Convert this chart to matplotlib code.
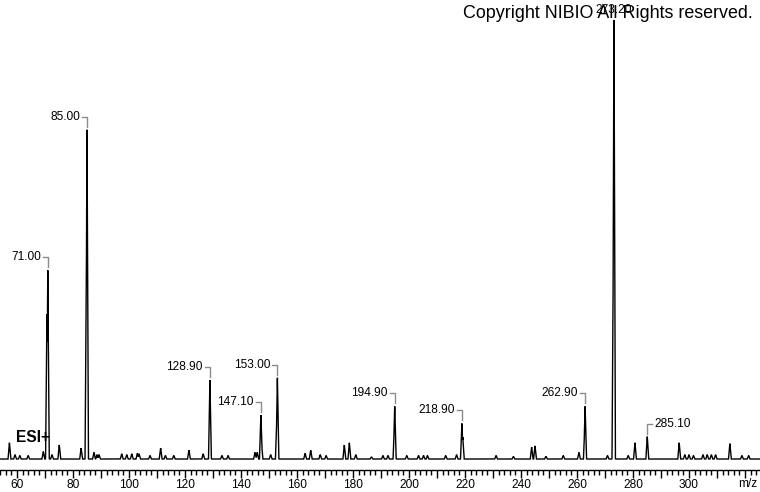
import numpy as np
import matplotlib
matplotlib.use("Agg")
import matplotlib.pyplot as plt
from matplotlib.ticker import MultipleLocator, FuncFormatter

plt.rcParams['font.family'] = ['Liberation Sans', 'DejaVu Sans']

# peak list (m/z, relative intensity %)
main_mz = [70.7, 71.0, 84.8, 85.0, 128.9, 147.1, 147.3, 152.8, 153.0,
           194.8, 194.9, 218.9, 219.2, 262.8, 262.9, 273.0, 273.2, 285.1]
main_int = [33.0, 43.0, 43.0, 75.0, 18.0, 10.0, 4.0, 9.0, 18.5,
            7.0, 12.0, 8.1, 5.0, 7.0, 12.0, 46.0, 100.0, 5.1]

minor_mz = [57.3, 59.3, 61.0, 64.0, 69.4, 72.5, 75.1, 82.9, 87.5, 88.6, 89.3,
            97.4, 99.2, 101.0, 103.0, 103.6, 107.5, 111.3, 113.0, 116.0,
            121.4, 126.5, 133.2, 135.4, 145.0, 145.8, 150.6, 162.9, 164.9,
            168.3, 170.4, 176.9, 178.7, 181.0, 186.6, 190.7, 192.5, 199.2,
            203.4, 205.2, 206.6, 213.1, 217.0, 231.1, 237.3, 243.8, 245.0,
            248.9, 255.1, 260.7, 270.9, 278.3, 280.7, 296.5, 298.5, 300.0,
            301.6, 305.0, 306.5, 308.0, 309.5, 314.6, 318.9, 321.3]
minor_int = [3.7, 1.0, 0.8, 0.8, 1.7, 1.0, 3.2, 2.5, 1.5, 1.0, 1.0,
             1.2, 1.0, 1.2, 1.3, 1.2, 0.8, 2.5, 0.8, 0.8,
             2.0, 1.2, 0.8, 0.8, 1.5, 1.5, 1.0, 1.3, 2.0,
             1.0, 0.8, 3.2, 3.7, 1.0, 0.5, 0.8, 0.8, 0.8,
             0.8, 0.8, 0.8, 0.8, 1.0, 0.8, 0.6, 2.7, 3.0,
             0.6, 0.8, 1.5, 0.8, 0.8, 3.7, 3.7, 1.0, 1.0,
             0.8, 1.0, 1.0, 1.0, 1.0, 3.5, 0.8, 0.8]

# labelled peaks: (text, m/z, intensity, side)
label_text = ["71.00", "85.00", "128.90", "147.10", "153.00",
              "194.90", "218.90", "262.90", "285.10"]
label_mz = [71.0, 85.0, 128.9, 147.1, 153.0, 194.9, 218.9, 262.9, 285.1]
label_int = [43.0, 75.0, 18.0, 10.0, 18.5, 12.0, 8.1, 12.0, 5.1]
label_side = ["l", "l", "l", "l", "l", "l", "l", "l", "r"]

W, H = 760, 492
fig = plt.figure(figsize=(W / 100, H / 100), dpi=100)
ax = fig.add_axes([0, 22 / H, 1, 470 / H])
xmin, xmax = 53.93, 325.36
ymin, ymax = -2.5, 104.56
ax.set_xlim(xmin, xmax)
ax.set_ylim(ymin, ymax)

# profile built from the peak lists (triangular peak shapes)
all_mz = main_mz + minor_mz
all_int = main_int + minor_int
grid = np.union1d(np.arange(xmin, xmax, 0.02), all_mz)
prof = np.zeros_like(grid)
for m, h in zip(all_mz, all_int):
    tri = h * np.clip(1 - np.abs(grid - m) / 0.5, 0, None)
    prof = np.maximum(prof, tri)
ax.plot(grid, prof, color="black", lw=1.0, solid_joinstyle="miter")

# pixel -> data helpers
sx = (xmax - xmin) / 760.0
sy = (ymax - ymin) / 470.0
gray = "#8c8c8c"
for t, m, h, s in zip(label_text, label_mz, label_int, label_side):
    yb = h + 3 * sy
    yt = h + 13 * sy
    if s == "l":
        ax.plot([m - 5 * sx, m, m], [yt, yt, yb], color=gray, lw=1.0)
        ax.text(m - 7 * sx, yt, t, ha="right", va="center", fontsize=8.6)
    else:
        ax.plot([m + 5 * sx, m, m], [yt, yt, yb], color=gray, lw=1.0)
        ax.text(m + 7 * sx, yt, t, ha="left", va="center", fontsize=8.6)

ax.text(273.2, 100 + 10 * sy, "273.20", ha="center", va="center", fontsize=8.6)

for side in ["top", "left", "right"]:
    ax.spines[side].set_visible(False)
ax.spines["bottom"].set_linewidth(1.0)
ax.set_yticks([])
ax.xaxis.set_major_locator(MultipleLocator(10))
ax.xaxis.set_minor_locator(MultipleLocator(2))
ax.xaxis.set_major_formatter(
    FuncFormatter(lambda v, p: "%d" % v if v % 20 == 0 and v <= 300 else ""))
ax.tick_params(axis="x", which="major", length=6, width=1, pad=0.5, labelsize=8.6)
ax.tick_params(axis="x", which="minor", length=3.5, width=1)

fig.text(748 / W, 1 - 484 / H, "m/z", ha="center", va="center", fontsize=8.6)
fig.text(16 / W, 1 - 438 / H, "ESI+", ha="left", va="center", fontsize=11.2, fontweight="bold")
fig.text(753 / W, 1 - 13 / H, "Copyright NIBIO All Rights reserved.", ha="right",
         va="center", fontsize=12.9)

fig.savefig("out.png", dpi=100)
